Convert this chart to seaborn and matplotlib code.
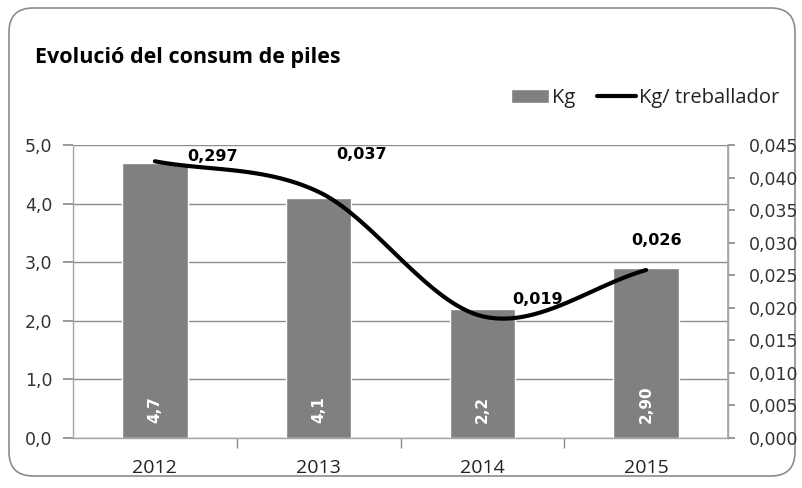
import numpy as np
import pandas as pd
import matplotlib
matplotlib.use("Agg")
import matplotlib.pyplot as plt
from matplotlib.ticker import FuncFormatter, FixedLocator
from matplotlib.patches import FancyBboxPatch
import seaborn as sns

years = ["2012", "2013", "2014", "2015"]
kg = [4.7, 4.1, 2.2, 2.9]
kg_labels = ["4,7", "4,1", "2,2", "2,90"]
kg_per_worker = [0.0425, 0.0378, 0.0187, 0.0258]
line_labels = ["0,297", "0,037", "0,019", "0,026"]

sns.set_theme(style="white")
plt.rcParams['font.family'] = ['Open Sans', 'DejaVu Sans']

fig = plt.figure(figsize=(8.03, 4.88), dpi=100)
fig.patch.set_facecolor("white")
border = FancyBboxPatch((9 / 803, 12 / 488), 786 / 803, 468 / 488,
                        boxstyle="round,pad=0,rounding_size=0.03",
                        transform=fig.transFigure, facecolor="none",
                        edgecolor="#8c8c8c", linewidth=1.2,
                        mutation_aspect=803 / 488, zorder=-5)
fig.patches.append(border)

ax = fig.add_axes([73 / 803, 50 / 488, 655 / 803, 293 / 488])
ax.set_facecolor("none")
df = pd.DataFrame({"year": years, "kg": kg})
sns.barplot(data=df, x="year", y="kg", color="#808080", width=0.4,
            saturation=1, ax=ax, zorder=2, label="Kg")
ax.set_xlim(-0.5, 3.5)
ax.set_ylim(0, 5)
ax.set_yticks(np.arange(0, 5.01, 1))
ax.yaxis.set_major_formatter(FuncFormatter(lambda v, p: f"{v:.1f}".replace(".", ",")))
ax.grid(axis="y", color="#8c8c8c", linewidth=1, zorder=0)
ax.set_axisbelow(True)
ax.set_xlabel("")
ax.set_ylabel("")
ax.spines["top"].set_visible(False)
for s in ["left", "bottom", "right"]:
    ax.spines[s].set_color("#a6a6a6")
    ax.spines[s].set_linewidth(1)
ax.tick_params(axis="y", which="major", length=7, color="#8c8c8c", labelsize=12.5,
               labelcolor="#333333", pad=8, left=True)
for lab in ax.get_yticklabels():
    lab.set_family("DejaVu Sans")
ax.tick_params(axis="x", which="major", length=0, labelsize=14, labelcolor="#222222", pad=15)
ax.xaxis.set_minor_locator(FixedLocator([0.5, 1.5, 2.5]))
ax.tick_params(axis="x", which="minor", length=7, color="#8c8c8c", bottom=True)

for i, (v, t) in enumerate(zip(kg, kg_labels)):
    ax.text(i, 0.26, t, rotation=90, ha="center", va="bottom", color="white",
            fontsize=11, fontweight="bold", family="DejaVu Sans", zorder=5)

ax2 = ax.twinx()
ax2.set_ylim(0, 0.045)
ax2.set_yticks(np.arange(0, 0.0451, 0.005))
ax2.yaxis.set_major_formatter(FuncFormatter(lambda v, p: f"{v:.3f}".replace(".", ",")))
ax2.tick_params(axis="y", length=5, color="#8c8c8c", labelsize=12.5, labelcolor="#333333",
                pad=10, right=True)
for lab in ax2.get_yticklabels():
    lab.set_family("DejaVu Sans")
for s in ["top", "left", "bottom"]:
    ax2.spines[s].set_visible(False)
ax2.spines["right"].set_color("#a6a6a6")
ax2.grid(False)

# Catmull-Rom smoothing for the visual curve (like Excel's smoothed line)
xs = np.arange(len(kg_per_worker), dtype=float)
ys = np.array(kg_per_worker)
px = np.concatenate([[2 * xs[0] - xs[1]], xs, [2 * xs[-1] - xs[-2]]])
py = np.concatenate([[2 * ys[0] - ys[1]], ys, [2 * ys[-1] - ys[-2]]])
cx, cy = [], []
t = np.linspace(0, 1, 40)


def cr(a, b, c, d):
    return 0.5 * (2 * b + (-a + c) * t + (2 * a - 5 * b + 4 * c - d) * t ** 2
                  + (-a + 3 * b - 3 * c + d) * t ** 3)


for i in range(1, len(px) - 2):
    cx.extend(cr(px[i - 1], px[i], px[i + 1], px[i + 2]))
    cy.extend(cr(py[i - 1], py[i], py[i + 1], py[i + 2]))
smooth = pd.DataFrame({"x": cx, "y": cy})
sns.lineplot(data=smooth, x="x", y="y", color="black", linewidth=3, ax=ax2,
             sort=False, label="Kg/ treballador", legend=False)
ax2.set_xlim(-0.5, 3.5)
ax2.set_xlabel("")
ax2.set_ylabel("")

# label offsets relative to each point (x in categories, y in axis units)
offsets = [(0.2, 0.0007, "left"), (0.265, 0.0057, "center"),
           (0.18, 0.0025, "left"), (0.066, 0.0046, "center")]
for i, (lab, (dx, dy, ha)) in enumerate(zip(line_labels, offsets)):
    ax2.text(i + dx, ys[i] + dy, lab, ha=ha, va="center", fontsize=11.5,
             fontweight="bold", family="DejaVu Sans", color="black", zorder=6)

fig.text(35 / 803, 1 - 57 / 488, "Evolució del consum de piles", fontsize=15.5,
         fontweight="bold", va="center", ha="left", color="black")

h1, l1 = ax.get_legend_handles_labels()
h2, l2 = ax2.get_legend_handles_labels()
if ax.get_legend():
    ax.get_legend().remove()
fig.legend(h1 + h2, l1 + l2, loc="center right", bbox_to_anchor=(789 / 803, 1 - 98 / 488),
           ncol=2, frameon=False, fontsize=14.5, handlelength=1.9, columnspacing=1.1,
           handletextpad=0.15, labelcolor="#222222", borderpad=0)

fig.savefig("out.png", dpi=100)
